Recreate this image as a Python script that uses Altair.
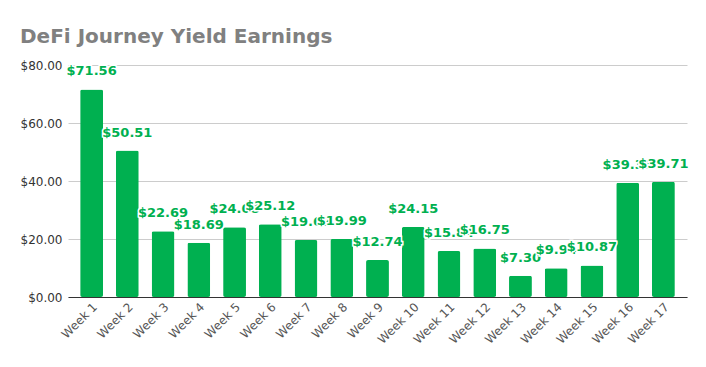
import altair as alt
import pandas as pd

weeks = [f"Week {i}" for i in range(1, 18)]
earnings = [71.56, 50.51, 22.69, 18.69, 24.08, 25.12, 19.62, 19.99, 12.74,
            24.15, 15.84, 16.75, 7.30, 9.94, 10.87, 39.36, 39.71]

GREEN = "#00b050"

bars_df = pd.DataFrame({"week": weeks, "value": earnings})

rows = []
for w, v in zip(weeks, earnings):
    lab = f"${v:.2f}"
    rows.append({"week": w, "value": v, "label": lab, "fillc": "white", "strokec": "white", "sw": 3})
    rows.append({"week": w, "value": v, "label": lab, "fillc": GREEN, "strokec": GREEN, "sw": 0})
labels_df = pd.DataFrame(rows)

x = alt.X("week:N", sort=weeks, title=None,
          scale=alt.Scale(paddingInner=0.36, paddingOuter=0.34),
          axis=alt.Axis(labelAngle=-45, labelFont="DejaVu Sans", labelFontSize=12,
                        labelColor="#555555", ticks=False, domainColor="#333333",
                        labelPadding=4))
y = alt.Y("value:Q", title=None,
          scale=alt.Scale(domain=[0, 80]),
          axis=alt.Axis(values=[0, 20, 40, 60, 80], format="$.2f", labelFont="DejaVu Sans",
                        labelFontSize=12, labelColor="#333333", domain=False, ticks=False,
                        gridColor="#cccccc", labelPadding=6))

bars = alt.Chart(bars_df).mark_bar(color=GREEN, cornerRadius=2).encode(x=x, y=y)

text = alt.Chart(labels_df).mark_text(font="DejaVu Sans", fontSize=13, fontWeight="bold",
                                      baseline="alphabetic", dy=-14).encode(
    x=alt.X("week:N", sort=weeks),
    y=alt.Y("value:Q"),
    text="label:N",
    fill=alt.Fill("fillc:N", scale=None),
    stroke=alt.Stroke("strokec:N", scale=None),
    strokeWidth=alt.StrokeWidth("sw:Q", scale=None),
)

chart = alt.layer(bars, text).properties(
    width=619, height=232,
    autosize=alt.AutoSizeParams(type="none"),
    padding={"left": 60, "top": 57, "right": 11, "bottom": 62},
    title=alt.TitleParams("DeFi Journey Yield Earnings", anchor="start", frame="bounds",
                          font="DejaVu Sans", fontSize=20, fontWeight="bold",
                          color="#808080", offset=12),
).configure_view(stroke=None)

chart.save("out.html", embed_options={"renderer": "svg", "actions": False})
